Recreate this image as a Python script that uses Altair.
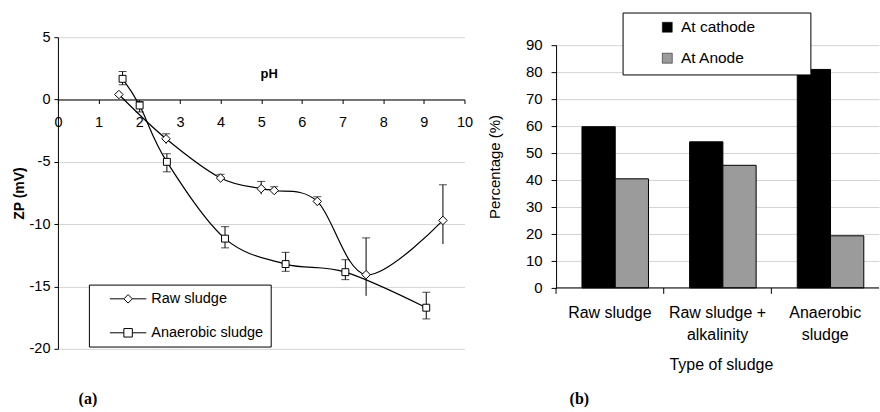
import altair as alt
import pandas as pd

FONT = "Liberation Sans"

# ---------------- (a) zeta potential against pH ----------------
series_names = ["Raw sludge", "Anaerobic sludge"]

raw_ph = [1.5, 2.66, 4.0, 5.0, 5.32, 6.38, 7.58, 9.47]
raw_zp = [0.4, -3.15, -6.3, -7.15, -7.3, -8.17, -14.05, -9.7]
raw_lo = [0.4, -3.55, -6.6, -7.6, -7.5, -8.5, -15.75, -11.6]
raw_hi = [0.4, -2.75, -6.0, -6.57, -7.0, -7.8, -11.1, -6.84]

ana_ph = [1.59, 2.01, 2.68, 4.11, 5.6, 7.07, 9.06]
ana_zp = [1.66, -0.48, -5.0, -11.16, -13.2, -13.85, -16.7]
ana_lo = [1.18, -1.0, -5.8, -11.9, -13.78, -14.45, -17.6]
ana_hi = [2.24, -0.16, -4.35, -10.2, -12.26, -12.85, -15.46]

ph_ticks = list(range(0, 11))
zp_ticks = [5, 0, -5, -10, -15, -20]


def series_frame(name, ph, zp, lo, hi):
    return pd.DataFrame({"series": name, "ph": ph, "zp": zp, "lo": lo, "hi": hi})


zp_df = pd.concat(
    [
        series_frame(series_names[0], raw_ph, raw_zp, raw_lo, raw_hi),
        series_frame(series_names[1], ana_ph, ana_zp, ana_lo, ana_hi),
    ],
    ignore_index=True,
)

ZP_W, ZP_H = 407, 312
zp_domain = [-20, 5]
# the pH axis runs along ZP = 0
ph_axis_offset = -ZP_H * (0 - zp_domain[0]) / (zp_domain[1] - zp_domain[0])

ph_scale = alt.Scale(domain=[0, 10], nice=False, zero=False)
ph_axis = alt.Axis(
    values=ph_ticks, labelExpr="datum.value + ''", title="pH",
    titleFontWeight="bold", titleFontSize=13, titleX=211, titleY=-26.5,
    titleBaseline="middle", titleAlign="center", offset=ph_axis_offset,
    labelFontSize=14.5, labelPadding=12, tickSize=4, tickColor="black",
    domainColor="black", grid=False, labelFlush=False, labelOverlap=False,
)
zp_scale = alt.Scale(domain=zp_domain, nice=False, zero=False)
zp_axis = alt.Axis(
    values=zp_ticks, labelExpr="datum.value + ''", title="ZP (mV)",
    titleFontWeight="bold", titleFontSize=14, titleX=-38, titleY=ZP_H / 2,
    titleAngle=270, titleBaseline="middle", titleAlign="center",
    labelFontSize=14.5, labelPadding=4, tickSize=4, tickColor="black",
    domainColor="black", grid=True, gridColor="#d4d4d4", labelFlush=False,
    labelOverlap=False,
)


def xph():
    return alt.X("ph:Q", scale=ph_scale, axis=ph_axis)


def yzp(field):
    return alt.Y(f"{field}:Q", scale=zp_scale, axis=zp_axis)


base_zp = alt.Chart(zp_df)

curves = base_zp.mark_line(interpolate="cardinal", color="black", strokeWidth=1.2).encode(
    x=xph(), y=yzp("zp"), detail="series:N"
)
whiskers = base_zp.transform_filter("datum.lo != datum.hi").mark_rule(
    color="black", strokeWidth=1
).encode(x=xph(), y=yzp("lo"), y2="hi:Q")
caps_top = base_zp.transform_filter("datum.lo != datum.hi").mark_tick(
    orient="horizontal", size=8, thickness=1, color="black"
).encode(x=xph(), y=yzp("hi"))
caps_bottom = base_zp.transform_filter(
    f"datum.series == '{series_names[1]}'"
).mark_tick(orient="horizontal", size=8, thickness=1, color="black").encode(
    x=xph(), y=yzp("lo")
)
raw_points = base_zp.transform_filter(
    f"datum.series == '{series_names[0]}'"
).mark_point(
    shape="diamond", size=72, filled=True, fill="white", stroke="black",
    strokeWidth=1, opacity=1,
).encode(x=xph(), y=yzp("zp"))
ana_points = base_zp.transform_filter(
    f"datum.series == '{series_names[1]}'"
).mark_point(
    shape="square", size=48, filled=True, fill="white", stroke="black",
    strokeWidth=1, opacity=1,
).encode(x=xph(), y=yzp("zp"))

# legend keys: a short line with the marker in the middle
diamond_key = "M-4.3,0L-1,0M1,0L4.3,0M-1,0L0,-1L1,0L0,1Z"
square_key = "M-4.3,0L-1,0M1,0L4.3,0M-1,-1L1,-1L1,1L-1,1Z"

zp_key = base_zp.transform_filter("false").mark_point(
    filled=False, color="black", strokeWidth=1, opacity=1
).encode(
    x=xph(),
    y=yzp("zp"),
    shape=alt.Shape(
        "series:N",
        scale=alt.Scale(domain=series_names, range=[diamond_key, square_key]),
        legend=alt.Legend(
            orient="none", legendX=31, legendY=247.7, title=None,
            strokeColor="black", fillColor="white", padding=7,
            symbolSize=72, symbolOffset=25, labelOffset=16,
            labelFontSize=14.5, labelFont=FONT, rowPadding=19,
            symbolStrokeColor="black", symbolStrokeWidth=1,
            labelColor="black",
        ),
    ),
)

panel_tags = ["(a)", "(b)"]


def tag(text, x, y):
    return alt.Chart(pd.DataFrame({"t": [text]})).mark_text(
        font="Liberation Serif", fontWeight="bold", fontSize=16,
        align="center", baseline="middle", color="black",
    ).encode(x=alt.value(x), y=alt.value(y), text="t:N")


zp_chart = alt.layer(
    curves, whiskers, caps_top, caps_bottom, raw_points, ana_points, zp_key,
    tag(panel_tags[0], 30, 362),
).properties(width=ZP_W, height=ZP_H)

# ---------------- (b) share of sludge at each electrode ----------------
sludge_types = ["Raw sludge", "Raw sludge + alkalinity", "Anaerobic sludge"]
sludge_label_lines = [["Raw sludge"], ["Raw sludge +", "alkalinity"], ["Anaerobic", "sludge"]]
electrodes = ["At cathode", "At Anode"]
at_cathode = [59.7, 54.1, 80.9]
at_anode = [40.4, 45.4, 19.3]
pct_ticks = list(range(0, 100, 10))

pct_df = pd.DataFrame(
    {
        "sludge": sludge_types * 2,
        "electrode": [electrodes[0]] * 3 + [electrodes[1]] * 3,
        "pct": at_cathode + at_anode,
    }
)

PCT_W, PCT_H = 323.3, 251
PCT_TOP = 7.7


def label_expr(names, lines):
    expr = "datum.value"
    for name, parts in zip(names, lines):
        if len(parts) > 1:
            arr = "[" + ", ".join(f"'{p}'" for p in parts) + "]"
            expr = f"datum.value == '{name}' ? {arr} : " + expr
    return expr


sludge_scale = alt.Scale(domain=sludge_types, paddingInner=0, paddingOuter=0)
sludge_axis = alt.Axis(
    title="Type of sludge", titleFontWeight="normal", titleFontSize=16,
    titleX=165, titleY=76.7, titleBaseline="middle", titleAlign="center",
    domain=False, ticks=False, tickSize=0, labelAngle=0,
    labelExpr=label_expr(sludge_types, sludge_label_lines),
    labelFontSize=16, labelPadding=17, labelLineHeight=21.7, grid=False,
)
pct_scale = alt.Scale(domain=[0, 90], range=[PCT_H, PCT_TOP], nice=False, zero=True)
pct_axis = alt.Axis(
    values=pct_ticks, title="Percentage (%)", titleFontWeight="normal",
    titleFontSize=15, titleX=-61.7, titleY=(PCT_H + PCT_TOP) / 2,
    titleAngle=270, titleBaseline="middle", titleAlign="center",
    labelFontSize=15, labelPadding=9, tickSize=5, tickColor="black",
    domainColor="black", grid=True, gridColor="#d4d4d4", labelFlush=False,
    labelOverlap=False,
)


def xsludge(**kw):
    return alt.X("sludge:N", sort=sludge_types, scale=sludge_scale, axis=sludge_axis, **kw)


pad = "\u2800" * 4
bars = alt.Chart(pct_df).mark_bar(stroke="black", strokeWidth=1).encode(
    x=xsludge(),
    xOffset=alt.XOffset(
        "electrode:N", sort=electrodes,
        scale=alt.Scale(domain=electrodes, paddingInner=0, paddingOuter=0.618, align=0.63),
    ),
    y=alt.Y("pct:Q", scale=pct_scale, axis=pct_axis),
    fill=alt.Fill(
        "electrode:N",
        scale=alt.Scale(domain=electrodes, range=["black", "#9b9b9b"]),
        legend=alt.Legend(
            orient="none", legendX=66.6, legendY=-24.7, title=None,
            strokeColor="black", fillColor="white", padding=7,
            symbolType="square", symbolSize=100, symbolOffset=30,
            labelOffset=6, labelFontSize=15.5, labelFont=FONT, rowPadding=14,
            symbolStrokeColor="black", symbolStrokeWidth=0.5,
            labelColor="black", labelExpr=f"datum.label + '{pad}'",
        ),
    ),
)

base_line = alt.Chart(pd.DataFrame({"v": [0]})).mark_rule(color="black", strokeWidth=1).encode(
    y=alt.YDatum(0, scale=pct_scale, axis=pct_axis)
)
band_ticks = alt.Chart(pd.DataFrame({"sludge": sludge_types})).mark_rule(
    color="black", strokeWidth=1
).encode(
    x=xsludge(bandPosition=0),
    y=alt.YDatum(0, scale=pct_scale, axis=pct_axis),
    y2=alt.value(PCT_H + 6),
)

pct_chart = alt.layer(
    bars, base_line, band_ticks, tag(panel_tags[1], 23.3, 362)
).properties(width=PCT_W, height=PCT_H)

chart = (
    alt.hconcat(zp_chart, pct_chart, spacing=91.7, bounds="flush")
    .resolve_legend(shape="independent", fill="independent")
    .properties(padding={"left": 13, "top": 11, "right": 0, "bottom": 0})
    .configure(font=FONT)
    .configure_view(strokeWidth=0)
    .configure_axis(labelFont=FONT, titleFont=FONT, labelColor="black", titleColor="black")
    .configure_legend(labelFont=FONT, labelColor="black")
)

chart.save("out.html", embed_options={"renderer": "svg", "actions": False})
